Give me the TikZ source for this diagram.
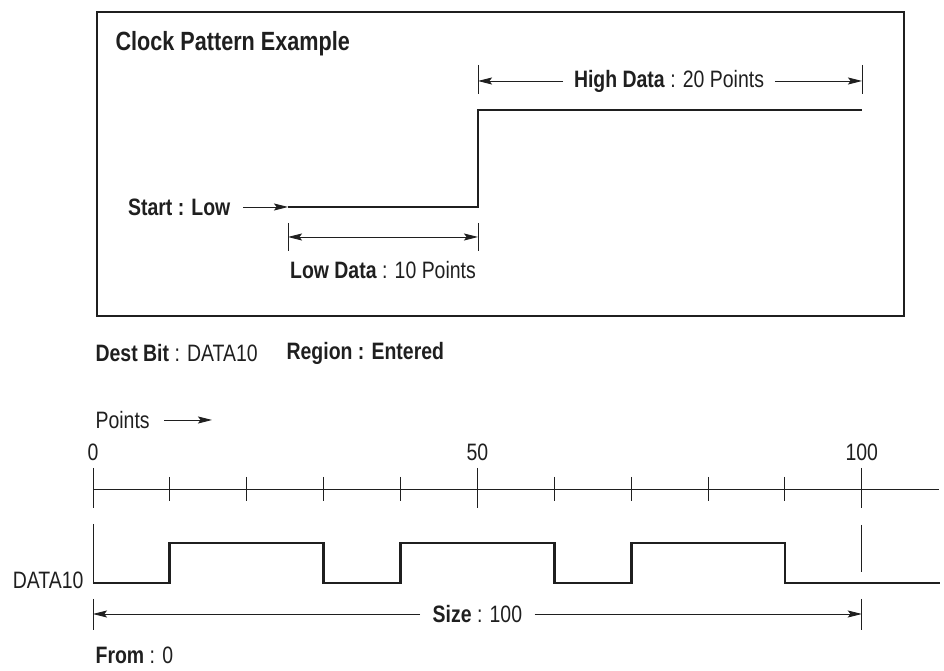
\documentclass[tikz,border=0pt]{standalone}
\usepackage{fontspec}
\setmainfont{Liberation Sans}[FakeStretch=0.82]
\usetikzlibrary{arrows.meta}
\definecolor{InkClr}{rgb}{0.12,0.12,0.12}

\begin{document}
\begin{tikzpicture}[x=0.02cm,y=-0.02cm,color=InkClr,font=\fontsize{13.5}{15}\selectfont,
  frame/.style={line width=0.8pt},
  signal/.style={line width=1.6pt},
  thin/.style={line width=0.5pt},
  dim/.style={line width=0.5pt,-{Stealth[length=8pt,width=4pt,inset=1.5pt]}},
  dimboth/.style={line width=0.5pt,{Stealth[length=8pt,width=4pt,inset=1.5pt]}-{Stealth[length=8pt,width=4pt,inset=1.5pt]}},
  lbl/.style={inner sep=3pt}]
\useasboundingbox (0,0) rectangle (944,671);

% pattern box
\draw[frame] (97,12) rectangle (904,316);
\node[lbl,anchor=west,font=\fontsize{15}{17}\selectfont\bfseries] (title) at (110,44) {Clock Pattern Example};

\coordinate (s0) at (288,207);
\coordinate (s1) at (478,207);
\coordinate (s2) at (478,110);
\coordinate (s3) at (862,110);
\draw[signal] (s0) -- (s1) -- (s2) -- (s3);

\node[lbl,anchor=east] (start) at (236,207) {\bfseries Start : Low};
\draw[dim] ([xshift=4pt]start.east) -- (s0);

% low data
\coordinate (l0) at (288,237);
\coordinate (l1) at (478,237);
\draw[thin] (288,223) -- (288,251);
\draw[thin] (478,223) -- (478,251);
\draw[dimboth] (l0) -- (l1);
\node[lbl] (lowdata) at (383,270) {\textbf{Low Data} : 10 Points};

% high data
\coordinate (h0) at (478,81);
\coordinate (h1) at (862,81);
\draw[thin] (478,65) -- (478,94);
\draw[thin] (862,65) -- (862,94);
\node[lbl,inner sep=6pt] (highdata) at (669,81) {\textbf{High Data} : 20 Points};
\draw[dim] (highdata.west) -- (h0);
\draw[dim] (highdata.east) -- (h1);

% settings
\node[lbl,anchor=west] (dest) at (90,353) {\textbf{Dest Bit} : DATA10};
\node[lbl,anchor=west] (region) at (281,353) {\bfseries Region : Entered};

\node[lbl,anchor=west] (points) at (90,420) {Points};
\coordinate (pa) at (212,420);
\draw[dim] ([xshift=5pt]points.east) -- (pa);

\node[lbl,anchor=east] (data) at (89,580) {DATA10};

% timing chart, x in points
\begin{scope}[xshift=1.86cm,x=0.1538cm]
\foreach \v in {0,50,100}
  \node[lbl] (n\v) at (\v,452) {\v};
\draw[thin] (0,489) -- (110,489);
\foreach \v in {0,50,100}
  \draw[thin] (\v,468) -- (\v,508);
\foreach \v in {10,20,30,40,60,70,80,90}
  \draw[thin] (\v,477) -- (\v,501);

\draw[thin] (0,524) -- (0,583);
\draw[thin] (100,525) -- (100,572);
\draw[signal] (0,583) -- (10,583) -- (10,543) -- (30,543) -- (30,583)
  -- (40,583) -- (40,543) -- (60,543) -- (60,583) -- (70,583)
  -- (70,543) -- (90,543) -- (90,583) -- (110.2,583);

% size
\coordinate (z0) at (0,614);
\coordinate (z1) at (100,614);
\draw[thin] (0,599) -- (0,630);
\draw[thin] (100,599) -- (100,630);
\node[lbl,inner sep=7pt] (size) at (50,614) {\textbf{Size} : 100};
\draw[dim] (size.west) -- (z0);
\draw[dim] (size.east) -- (z1);
\end{scope}

\node[lbl,anchor=west] (from) at (90,655) {\textbf{From} : 0};
\end{tikzpicture}
\end{document}
